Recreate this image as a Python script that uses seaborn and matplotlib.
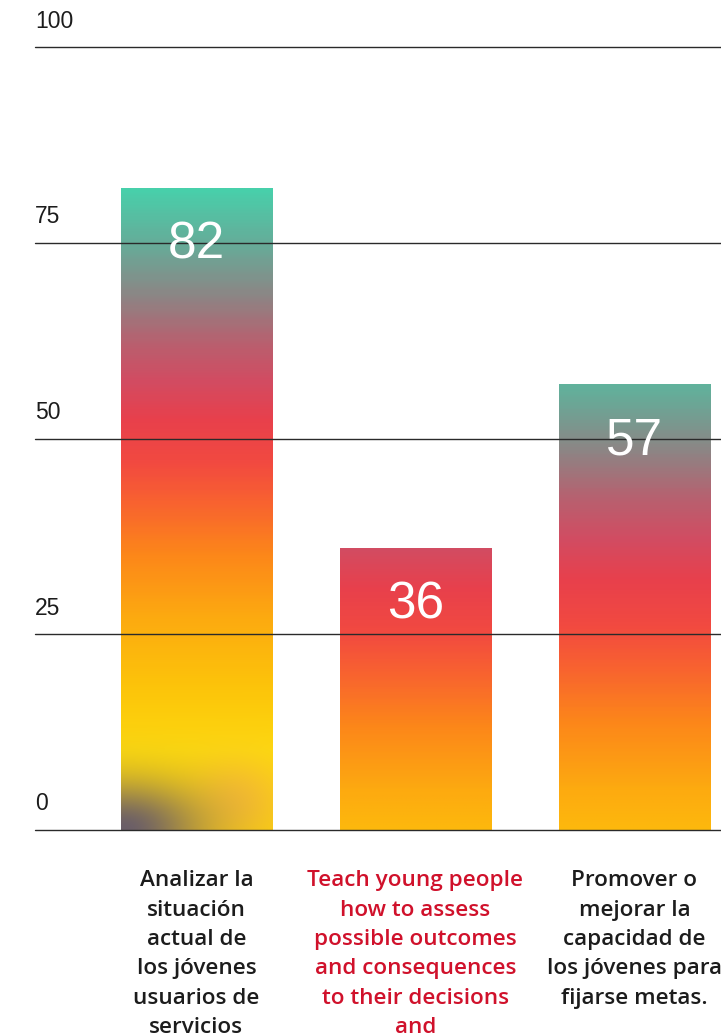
import numpy as np
import matplotlib
matplotlib.use("Agg")
import matplotlib.pyplot as plt
import matplotlib.transforms as mtransforms
from matplotlib.colors import LinearSegmentedColormap, to_rgb
import seaborn as sns

# ---- data ----
categories = [
    "Analizar la\nsituación\nactual de\nlos jóvenes\nusuarios de\nservicios",
    "Teach young people\nhow to assess\npossible outcomes\nand consequences\nto their decisions\nand",
    "Promover o\nmejorar la\ncapacidad de\nlos jóvenes para\nfijarse metas.",
]
values = [82, 36, 57]
label_colors = ["#1c1c1c", "#d0112b", "#1c1c1c"]
y_ticks = [0, 25, 50, 75, 100]

# colour ramp from warm yellow (bottom) to teal (top)
ramp_stops = [
    (0.00, "#fdd20e"), (0.12, "#fdd90f"), (0.22, "#fdc40a"), (0.33, "#fdaa10"),
    (0.43, "#fc861a"), (0.51, "#f86230"), (0.57, "#f24a40"), (0.64, "#e8404c"),
    (0.70, "#d24c62"), (0.76, "#b8606f"), (0.83, "#8e8484"), (0.91, "#68aa98"),
    (1.00, "#48d0ab"),
]
ramp = LinearSegmentedColormap.from_list("ramp", ramp_stops)
# portion of the ramp covered by each bar (bottom, top)
ramp_span = [(0.0, 1.0), (0.27, 0.70), (0.27, 0.93)]

sns.set_theme(style="white")
plt.rcParams["font.family"] = ["Liberation Sans", "DejaVu Sans"]

fig = plt.figure(figsize=(7.21, 10.34), dpi=100)
ax = fig.add_axes([35 / 721, 1 - 830 / 1034, 1 - 35 / 721, (830 - 47) / 1034])

sns.barplot(x=list(range(len(values))), y=values, ax=ax, width=0.69,
            color="white", edgecolor="none", native_scale=False)

for i, patch in enumerate(ax.patches):
    x0, w, h = patch.get_x(), patch.get_width(), patch.get_height()
    patch.set_facecolor("none")
    ny, nx = 300, 80
    frac = np.linspace(0, 1, ny)[:, None] * np.ones((1, nx))
    lo, hi = ramp_span[i]
    rgb = ramp(lo + frac * (hi - lo))[..., :3]
    if i == 0:
        # soft shading at the foot of the first bar
        u = np.linspace(0, 1, nx)[None, :] * np.ones((ny, 1))
        yv = frac * h
        dark = np.exp(-((u / 0.55) ** 2 + (yv / 6.0) ** 2))
        warm = np.exp(-(((u - 0.78) / 0.3) ** 2 + ((yv - 4.0) / 5.0) ** 2))
        c_dark = np.array(to_rgb("#5a5172"))
        c_warm = np.array(to_rgb("#f5ad45"))
        rgb = rgb * (1 - 0.55 * warm[..., None]) + c_warm * 0.55 * warm[..., None]
        rgb = rgb * (1 - 0.9 * dark[..., None]) + c_dark * 0.9 * dark[..., None]
    im = ax.imshow(rgb, origin="lower", aspect="auto", interpolation="bilinear",
                   extent=[x0, x0 + w, 0, h], zorder=1)
    im.set_clip_path(patch)
    ax.annotate(str(values[i]), xy=(x0 + w / 2, h), xytext=(0, -41),
                textcoords="offset points", ha="center", va="center",
                color="white", fontsize=37, zorder=4)

ax.set_xlim(-0.737, 2.395)
ax.set_ylim(0, 100)
ax.set_yticks(y_ticks)
ax.set_yticklabels([str(t) for t in y_ticks])
ax.yaxis.grid(True, color="#2a2a2a", linewidth=1.0)
ax.set_axisbelow(False)
for gl in ax.get_ygridlines():
    gl.set_clip_on(False)
for s in ax.spines.values():
    s.set_visible(False)

ax.tick_params(axis="y", length=0, pad=0, labelsize=16.5, labelcolor="#1c1c1c")
shift = mtransforms.ScaledTranslation(0, 26 / 100, fig.dpi_scale_trans)
for lbl in ax.get_yticklabels():
    lbl.set_horizontalalignment("left")
    lbl.set_verticalalignment("center")
    lbl.set_transform(lbl.get_transform() + shift)

ax.set_xticks(range(len(categories)))
ax.set_xticklabels(categories, fontsize=16.2, linespacing=1.52,
                   family=["Open Sans", "DejaVu Sans"], fontweight="semibold")
ax.tick_params(axis="x", length=0, pad=29)
for lbl, c in zip(ax.get_xticklabels(), label_colors):
    lbl.set_color(c)
ax.set_xlabel("")
ax.set_ylabel("")

fig.savefig("out.png", dpi=100, facecolor="white")
